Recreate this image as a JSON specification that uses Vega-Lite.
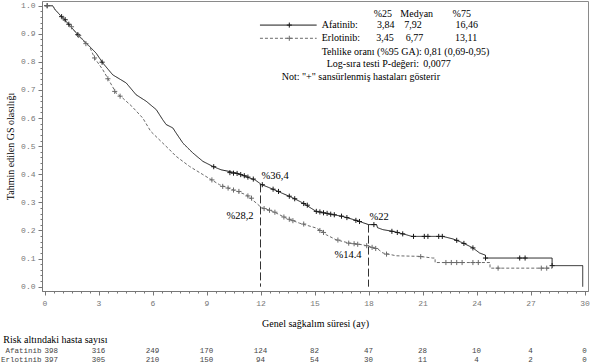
{
  "$schema": "https://vega.github.io/schema/vega-lite/v6.json",
  "width": 546,
  "height": 290,
  "autosize": {"type": "none"},
  "padding": {"left": 42, "top": 1, "right": 3, "bottom": 73},
  "background": "white",
  "config": {
    "view": {"stroke": "#8a8a8a", "strokeWidth": 1},
    "axis": {
      "grid": false,
      "domainColor": "#777777",
      "tickColor": "#777777",
      "labelColor": "#777777",
      "labelFont": "Liberation Mono",
      "labelFontSize": 8,
      "titleFont": "Liberation Serif",
      "titleFontSize": 10,
      "titleFontWeight": "normal",
      "titleColor": "#000000",
      "labelFlush": false,
      "labelOverlap": false
    },
    "text": {"font": "Liberation Serif", "fontSize": 10, "color": "#000000"}
  },
  "datasets": {
    "one": [{}],
    "curves": [
      {"group": "Afatinib", "time": 0, "surv": 1},
      {"group": "Afatinib", "time": 0.45, "surv": 1},
      {"group": "Afatinib", "time": 0.6, "surv": 0.985},
      {"group": "Afatinib", "time": 0.93, "surv": 0.962},
      {"group": "Afatinib", "time": 1.29, "surv": 0.938},
      {"group": "Afatinib", "time": 1.85, "surv": 0.897},
      {"group": "Afatinib", "time": 2.32, "surv": 0.867},
      {"group": "Afatinib", "time": 2.87, "surv": 0.831},
      {"group": "Afatinib", "time": 3.24, "surv": 0.796},
      {"group": "Afatinib", "time": 3.79, "surv": 0.754},
      {"group": "Afatinib", "time": 4.54, "surv": 0.725},
      {"group": "Afatinib", "time": 5.09, "surv": 0.683},
      {"group": "Afatinib", "time": 5.65, "surv": 0.66},
      {"group": "Afatinib", "time": 6.21, "surv": 0.63},
      {"group": "Afatinib", "time": 6.57, "surv": 0.594},
      {"group": "Afatinib", "time": 6.76, "surv": 0.577},
      {"group": "Afatinib", "time": 7.13, "surv": 0.565},
      {"group": "Afatinib", "time": 7.31, "surv": 0.547},
      {"group": "Afatinib", "time": 7.69, "surv": 0.511},
      {"group": "Afatinib", "time": 8.24, "surv": 0.476},
      {"group": "Afatinib", "time": 8.8, "surv": 0.446},
      {"group": "Afatinib", "time": 9.35, "surv": 0.428},
      {"group": "Afatinib", "time": 9.81, "surv": 0.416},
      {"group": "Afatinib", "time": 10.65, "surv": 0.405},
      {"group": "Afatinib", "time": 11.39, "surv": 0.387},
      {"group": "Afatinib", "time": 11.7, "surv": 0.38},
      {"group": "Afatinib", "time": 12.04, "surv": 0.364},
      {"group": "Afatinib", "time": 12.69, "surv": 0.347},
      {"group": "Afatinib", "time": 13.8, "surv": 0.316},
      {"group": "Afatinib", "time": 14.35, "surv": 0.298},
      {"group": "Afatinib", "time": 15.09, "surv": 0.268},
      {"group": "Afatinib", "time": 15.83, "surv": 0.259},
      {"group": "Afatinib", "time": 16.57, "surv": 0.25},
      {"group": "Afatinib", "time": 17.32, "surv": 0.236},
      {"group": "Afatinib", "time": 18.0, "surv": 0.221},
      {"group": "Afatinib", "time": 18.45, "surv": 0.221},
      {"group": "Afatinib", "time": 18.5, "surv": 0.21},
      {"group": "Afatinib", "time": 18.8, "surv": 0.203},
      {"group": "Afatinib", "time": 19.35, "surv": 0.197},
      {"group": "Afatinib", "time": 20.09, "surv": 0.185},
      {"group": "Afatinib", "time": 20.4, "surv": 0.179},
      {"group": "Afatinib", "time": 22.13, "surv": 0.179},
      {"group": "Afatinib", "time": 22.69, "surv": 0.17},
      {"group": "Afatinib", "time": 23.24, "surv": 0.156},
      {"group": "Afatinib", "time": 23.8, "surv": 0.138},
      {"group": "Afatinib", "time": 24.17, "surv": 0.12},
      {"group": "Afatinib", "time": 24.5, "surv": 0.112},
      {"group": "Afatinib", "time": 24.5, "surv": 0.102},
      {"group": "Afatinib", "time": 28.2, "surv": 0.102},
      {"group": "Afatinib", "time": 28.2, "surv": 0.075},
      {"group": "Afatinib", "time": 29.9, "surv": 0.075},
      {"group": "Afatinib", "time": 29.9, "surv": 0},
      {"group": "Erlotinib", "time": 0, "surv": 1},
      {"group": "Erlotinib", "time": 0.45, "surv": 1},
      {"group": "Erlotinib", "time": 0.6, "surv": 0.985},
      {"group": "Erlotinib", "time": 0.93, "surv": 0.962},
      {"group": "Erlotinib", "time": 1.29, "surv": 0.938},
      {"group": "Erlotinib", "time": 1.85, "surv": 0.897},
      {"group": "Erlotinib", "time": 2.25, "surv": 0.868},
      {"group": "Erlotinib", "time": 2.5, "surv": 0.855},
      {"group": "Erlotinib", "time": 2.78, "surv": 0.814},
      {"group": "Erlotinib", "time": 3.24, "surv": 0.772},
      {"group": "Erlotinib", "time": 3.61, "surv": 0.731},
      {"group": "Erlotinib", "time": 3.98, "surv": 0.689},
      {"group": "Erlotinib", "time": 4.35, "surv": 0.671},
      {"group": "Erlotinib", "time": 4.85, "surv": 0.642},
      {"group": "Erlotinib", "time": 5.46, "surv": 0.6},
      {"group": "Erlotinib", "time": 5.9, "surv": 0.553},
      {"group": "Erlotinib", "time": 6.57, "surv": 0.511},
      {"group": "Erlotinib", "time": 6.94, "surv": 0.488},
      {"group": "Erlotinib", "time": 7.31, "surv": 0.464},
      {"group": "Erlotinib", "time": 8.06, "surv": 0.428},
      {"group": "Erlotinib", "time": 8.8, "surv": 0.399},
      {"group": "Erlotinib", "time": 9.72, "surv": 0.363},
      {"group": "Erlotinib", "time": 10.46, "surv": 0.345},
      {"group": "Erlotinib", "time": 11.2, "surv": 0.327},
      {"group": "Erlotinib", "time": 11.76, "surv": 0.298},
      {"group": "Erlotinib", "time": 12.04, "surv": 0.282},
      {"group": "Erlotinib", "time": 12.69, "surv": 0.268},
      {"group": "Erlotinib", "time": 13.43, "surv": 0.244},
      {"group": "Erlotinib", "time": 14.17, "surv": 0.226},
      {"group": "Erlotinib", "time": 15.09, "surv": 0.209},
      {"group": "Erlotinib", "time": 15.46, "surv": 0.195},
      {"group": "Erlotinib", "time": 15.65, "surv": 0.185},
      {"group": "Erlotinib", "time": 16.2, "surv": 0.167},
      {"group": "Erlotinib", "time": 16.94, "surv": 0.155},
      {"group": "Erlotinib", "time": 17.69, "surv": 0.149},
      {"group": "Erlotinib", "time": 18.0, "surv": 0.144},
      {"group": "Erlotinib", "time": 18.52, "surv": 0.134},
      {"group": "Erlotinib", "time": 18.8, "surv": 0.12},
      {"group": "Erlotinib", "time": 19.54, "surv": 0.11},
      {"group": "Erlotinib", "time": 20.83, "surv": 0.108},
      {"group": "Erlotinib", "time": 21.57, "surv": 0.102},
      {"group": "Erlotinib", "time": 21.7, "surv": 0.102},
      {"group": "Erlotinib", "time": 21.7, "surv": 0.086},
      {"group": "Erlotinib", "time": 24.75, "surv": 0.086},
      {"group": "Erlotinib", "time": 24.75, "surv": 0.066},
      {"group": "Erlotinib", "time": 28.2, "surv": 0.066}
    ],
    "censor": [
      {"group": "Afatinib", "time": 0.15, "surv": 1.0},
      {"group": "Afatinib", "time": 0.95, "surv": 0.961},
      {"group": "Afatinib", "time": 1.15, "surv": 0.95},
      {"group": "Afatinib", "time": 1.35, "surv": 0.934},
      {"group": "Afatinib", "time": 1.85, "surv": 0.897},
      {"group": "Afatinib", "time": 3.2, "surv": 0.799},
      {"group": "Afatinib", "time": 9.4, "surv": 0.427},
      {"group": "Afatinib", "time": 10.3, "surv": 0.406},
      {"group": "Afatinib", "time": 10.5, "surv": 0.404},
      {"group": "Afatinib", "time": 10.7, "surv": 0.403},
      {"group": "Afatinib", "time": 10.9, "surv": 0.399},
      {"group": "Afatinib", "time": 11.1, "surv": 0.395},
      {"group": "Afatinib", "time": 11.3, "surv": 0.39},
      {"group": "Afatinib", "time": 11.6, "surv": 0.383},
      {"group": "Afatinib", "time": 12.1, "surv": 0.363},
      {"group": "Afatinib", "time": 12.7, "surv": 0.347},
      {"group": "Afatinib", "time": 13.0, "surv": 0.339},
      {"group": "Afatinib", "time": 13.6, "surv": 0.322},
      {"group": "Afatinib", "time": 13.9, "surv": 0.313},
      {"group": "Afatinib", "time": 14.4, "surv": 0.296},
      {"group": "Afatinib", "time": 14.6, "surv": 0.29},
      {"group": "Afatinib", "time": 15.1, "surv": 0.268},
      {"group": "Afatinib", "time": 15.3, "surv": 0.266},
      {"group": "Afatinib", "time": 15.5, "surv": 0.263},
      {"group": "Afatinib", "time": 15.7, "surv": 0.261},
      {"group": "Afatinib", "time": 15.9, "surv": 0.258},
      {"group": "Afatinib", "time": 16.1, "surv": 0.256},
      {"group": "Afatinib", "time": 16.5, "surv": 0.251},
      {"group": "Afatinib", "time": 16.8, "surv": 0.246},
      {"group": "Afatinib", "time": 17.3, "surv": 0.236},
      {"group": "Afatinib", "time": 17.5, "surv": 0.232},
      {"group": "Afatinib", "time": 18.3, "surv": 0.221},
      {"group": "Afatinib", "time": 19.3, "surv": 0.197},
      {"group": "Afatinib", "time": 19.6, "surv": 0.193},
      {"group": "Afatinib", "time": 19.9, "surv": 0.188},
      {"group": "Afatinib", "time": 20.5, "surv": 0.179},
      {"group": "Afatinib", "time": 21.1, "surv": 0.179},
      {"group": "Afatinib", "time": 21.3, "surv": 0.179},
      {"group": "Afatinib", "time": 21.9, "surv": 0.179},
      {"group": "Afatinib", "time": 22.1, "surv": 0.179},
      {"group": "Afatinib", "time": 22.9, "surv": 0.165},
      {"group": "Afatinib", "time": 23.3, "surv": 0.154},
      {"group": "Afatinib", "time": 23.8, "surv": 0.138},
      {"group": "Afatinib", "time": 24.5, "surv": 0.102},
      {"group": "Afatinib", "time": 26.4, "surv": 0.102},
      {"group": "Afatinib", "time": 26.7, "surv": 0.102},
      {"group": "Afatinib", "time": 28.2, "surv": 0.075},
      {"group": "Erlotinib", "time": 0.15, "surv": 1.0},
      {"group": "Erlotinib", "time": 1.05, "surv": 0.955},
      {"group": "Erlotinib", "time": 1.5, "surv": 0.925},
      {"group": "Erlotinib", "time": 1.9, "surv": 0.894},
      {"group": "Erlotinib", "time": 2.3, "surv": 0.865},
      {"group": "Erlotinib", "time": 2.78, "surv": 0.814},
      {"group": "Erlotinib", "time": 3.52, "surv": 0.74},
      {"group": "Erlotinib", "time": 3.9, "surv": 0.695},
      {"group": "Erlotinib", "time": 4.2, "surv": 0.678},
      {"group": "Erlotinib", "time": 9.3, "surv": 0.38},
      {"group": "Erlotinib", "time": 9.9, "surv": 0.357},
      {"group": "Erlotinib", "time": 10.2, "surv": 0.351},
      {"group": "Erlotinib", "time": 10.5, "surv": 0.344},
      {"group": "Erlotinib", "time": 10.8, "surv": 0.339},
      {"group": "Erlotinib", "time": 11.3, "surv": 0.323},
      {"group": "Erlotinib", "time": 11.5, "surv": 0.315},
      {"group": "Erlotinib", "time": 12.2, "surv": 0.278},
      {"group": "Erlotinib", "time": 12.5, "surv": 0.272},
      {"group": "Erlotinib", "time": 12.8, "surv": 0.265},
      {"group": "Erlotinib", "time": 13.3, "surv": 0.248},
      {"group": "Erlotinib", "time": 13.6, "surv": 0.24},
      {"group": "Erlotinib", "time": 13.8, "surv": 0.235},
      {"group": "Erlotinib", "time": 14.4, "surv": 0.223},
      {"group": "Erlotinib", "time": 15.3, "surv": 0.2},
      {"group": "Erlotinib", "time": 15.5, "surv": 0.193},
      {"group": "Erlotinib", "time": 16.3, "surv": 0.166},
      {"group": "Erlotinib", "time": 16.9, "surv": 0.155},
      {"group": "Erlotinib", "time": 17.2, "surv": 0.153},
      {"group": "Erlotinib", "time": 17.4, "surv": 0.151},
      {"group": "Erlotinib", "time": 17.9, "surv": 0.146},
      {"group": "Erlotinib", "time": 18.2, "surv": 0.14},
      {"group": "Erlotinib", "time": 18.4, "surv": 0.136},
      {"group": "Erlotinib", "time": 19.0, "surv": 0.116},
      {"group": "Erlotinib", "time": 20.9, "surv": 0.107},
      {"group": "Erlotinib", "time": 22.3, "surv": 0.086},
      {"group": "Erlotinib", "time": 22.6, "surv": 0.086},
      {"group": "Erlotinib", "time": 22.9, "surv": 0.086},
      {"group": "Erlotinib", "time": 23.2, "surv": 0.086},
      {"group": "Erlotinib", "time": 23.8, "surv": 0.086},
      {"group": "Erlotinib", "time": 24.1, "surv": 0.086},
      {"group": "Erlotinib", "time": 25.2, "surv": 0.066},
      {"group": "Erlotinib", "time": 27.6, "surv": 0.066},
      {"group": "Erlotinib", "time": 27.9, "surv": 0.066}
    ],
    "milestones": [
      {"group": "Afatinib", "time": 12, "surv": 0.364, "label": "%36,4"},
      {"group": "Erlotinib", "time": 12, "surv": 0.282, "label": "%28,2"},
      {"group": "Afatinib", "time": 18, "surv": 0.221, "label": "%22"},
      {"group": "Erlotinib", "time": 18, "surv": 0.144, "label": "%14.4"}
    ],
    "risk": [
      {"group": "Afatinib", "time": 0, "n": 398},
      {"group": "Afatinib", "time": 3, "n": 316},
      {"group": "Afatinib", "time": 6, "n": 249},
      {"group": "Afatinib", "time": 9, "n": 170},
      {"group": "Afatinib", "time": 12, "n": 124},
      {"group": "Afatinib", "time": 15, "n": 82},
      {"group": "Afatinib", "time": 18, "n": 47},
      {"group": "Afatinib", "time": 21, "n": 28},
      {"group": "Afatinib", "time": 24, "n": 10},
      {"group": "Afatinib", "time": 27, "n": 4},
      {"group": "Afatinib", "time": 30, "n": 0},
      {"group": "Erlotinib", "time": 0, "n": 397},
      {"group": "Erlotinib", "time": 3, "n": 305},
      {"group": "Erlotinib", "time": 6, "n": 210},
      {"group": "Erlotinib", "time": 9, "n": 150},
      {"group": "Erlotinib", "time": 12, "n": 94},
      {"group": "Erlotinib", "time": 15, "n": 54},
      {"group": "Erlotinib", "time": 18, "n": 30},
      {"group": "Erlotinib", "time": 21, "n": 11},
      {"group": "Erlotinib", "time": 24, "n": 4},
      {"group": "Erlotinib", "time": 27, "n": 2},
      {"group": "Erlotinib", "time": 30, "n": 0}
    ]
  },
  "layer": [
    {
      "data": {"name": "milestones"},
      "transform": [{"filter": "datum.group === 'Afatinib'"}],
      "mark": {"type": "rule", "color": "#333333", "strokeWidth": 1, "strokeDash": [8, 3]},
      "encoding": {
        "x": {"field": "time", "type": "quantitative", "scale": {"domain": [-0.139, 30.194], "nice": false, "zero": false}},
        "y": {"field": "surv", "type": "quantitative", "scale": {"domain": [-0.0153, 1.0167], "nice": false, "zero": false}},
        "y2": {"datum": 0}
      }
    },
    {
      "data": {"name": "curves"},
      "mark": {"type": "line", "strokeWidth": 1, "clip": true},
      "encoding": {
        "x": {
          "field": "time", "type": "quantitative",
          "scale": {"domain": [-0.139, 30.194], "nice": false, "zero": false},
          "axis": {
            "title": "Genel sağkalım süresi (ay)",
            "values": [0,0.5,1,1.5,2,2.5,3,3.5,4,4.5,5,5.5,6,6.5,7,7.5,8,8.5,9,9.5,10,10.5,11,11.5,12,12.5,13,13.5,14,14.5,15,15.5,16,16.5,17,17.5,18,18.5,19,19.5,20,20.5,21,21.5,22,22.5,23,23.5,24,24.5,25,25.5,26,26.5,27,27.5,28,28.5,29,29.5,30],
            "tickCount": 200,
            "format": ".0f",
            "labelOverlap": false,
            "labelFlush": false,
            "labelExpr": "datum.value % 3 === 0 ? datum.label : ''",
            "tickSize": {"condition": {"test": "datum.value % 3 === 0", "value": 4}, "value": 2},
            "labelPadding": 4,
            "titlePadding": 11
          }
        },
        "y": {
          "field": "surv", "type": "quantitative",
          "scale": {"domain": [-0.0153, 1.0167], "nice": false, "zero": false},
          "axis": {
            "title": "Tahmin edilen GS olasılığı",
            "values": [0,0.02,0.04,0.06,0.08,0.1,0.12,0.14,0.16,0.18,0.2,0.22,0.24,0.26,0.28,0.3,0.32,0.34,0.36,0.38,0.4,0.42,0.44,0.46,0.48,0.5,0.52,0.54,0.56,0.58,0.6,0.62,0.64,0.66,0.68,0.7,0.72,0.74,0.76,0.78,0.8,0.82,0.84,0.86,0.88,0.9,0.92,0.94,0.96,0.98,1],
            "tickCount": 200,
            "format": ".1f",
            "labelOverlap": false,
            "labelFlush": false,
            "labelExpr": "abs(datum.value * 10 - round(datum.value * 10)) < 0.001 ? datum.label : ''",
            "tickSize": {"condition": {"test": "abs(datum.value * 10 - round(datum.value * 10)) < 0.001", "value": 4}, "value": 2},
            "labelPadding": 3,
            "titlePadding": 5
          }
        },
        "color": {"field": "group", "type": "nominal", "scale": {"domain": ["Afatinib", "Erlotinib"], "range": ["#1a1a1a", "#6a6a6a"]}, "legend": null},
        "strokeDash": {"field": "group", "type": "nominal", "scale": {"domain": ["Afatinib", "Erlotinib"], "range": [[1, 0], [3, 2]]}, "legend": null},
        "order": {"value": null}
      }
    },
    {
      "data": {"name": "censor"},
      "mark": {"type": "point", "shape": "M-1,0H1M0,-1V1", "filled": false, "size": 26, "strokeWidth": 1, "opacity": 1},
      "encoding": {
        "x": {"field": "time", "type": "quantitative", "scale": {"domain": [-0.139, 30.194], "nice": false, "zero": false}},
        "y": {"field": "surv", "type": "quantitative", "scale": {"domain": [-0.0153, 1.0167], "nice": false, "zero": false}},
        "color": {"field": "group", "type": "nominal", "scale": {"domain": ["Afatinib", "Erlotinib"], "range": ["#1a1a1a", "#6a6a6a"]}, "legend": null}
      }
    },
    {
      "data": {"name": "milestones"},
      "transform": [{"filter": "datum.group === 'Afatinib'"}],
      "mark": {"type": "text", "align": "left", "baseline": "middle", "dx": 1, "dy": -8, "fontSize": 10.5},
      "encoding": {
        "x": {"field": "time", "type": "quantitative", "scale": {"domain": [-0.139, 30.194], "nice": false, "zero": false}},
        "y": {"field": "surv", "type": "quantitative", "scale": {"domain": [-0.0153, 1.0167], "nice": false, "zero": false}},
        "text": {"field": "label"}
      }
    },
    {
      "data": {"name": "milestones"},
      "transform": [{"filter": "datum.group === 'Erlotinib'"}],
      "mark": {"type": "text", "align": "right", "baseline": "middle", "dx": -7, "dy": 9, "fontSize": 10.5},
      "encoding": {
        "x": {"field": "time", "type": "quantitative", "scale": {"domain": [-0.139, 30.194], "nice": false, "zero": false}},
        "y": {"field": "surv", "type": "quantitative", "scale": {"domain": [-0.0153, 1.0167], "nice": false, "zero": false}},
        "text": {"field": "label"}
      }
    },
    {
      "data": {"name": "one"},
      "mark": {"type": "rule", "color": "#1a1a1a", "strokeWidth": 1},
      "encoding": {"x": {"datum": 11.97}, "x2": {"datum": 15.12}, "y": {"datum": 0.931}}
    },
    {
      "data": {"name": "one"},
      "mark": {"type": "rule", "color": "#6a6a6a", "strokeWidth": 1, "strokeDash": [3, 2]},
      "encoding": {"x": {"datum": 11.97}, "x2": {"datum": 15.12}, "y": {"datum": 0.884}}
    },
    {
      "data": {"name": "one"},
      "mark": {"type": "point", "shape": "M-1,0H1M0,-1V1", "filled": false, "size": 26, "strokeWidth": 1, "color": "#1a1a1a", "opacity": 1},
      "encoding": {"x": {"datum": 13.6}, "y": {"datum": 0.931}}
    },
    {
      "data": {"name": "one"},
      "mark": {"type": "point", "shape": "M-1,0H1M0,-1V1", "filled": false, "size": 26, "strokeWidth": 1, "color": "#6a6a6a", "opacity": 1},
      "encoding": {"x": {"datum": 13.6}, "y": {"datum": 0.884}}
    },
    {
      "data": {"name": "one"},
      "mark": {"type": "text", "align": "center", "baseline": "middle"},
      "encoding": {"x": {"datum": 18.8}, "y": {"datum": 0.972}, "text": {"value": "%25"}}
    },
    {
      "data": {"name": "one"},
      "mark": {"type": "text", "align": "center", "baseline": "middle"},
      "encoding": {"x": {"datum": 20.68}, "y": {"datum": 0.972}, "text": {"value": "Medyan"}}
    },
    {
      "data": {"name": "one"},
      "mark": {"type": "text", "align": "center", "baseline": "middle"},
      "encoding": {"x": {"datum": 23.18}, "y": {"datum": 0.972}, "text": {"value": "%75"}}
    },
    {
      "data": {"name": "one"},
      "mark": {"type": "text", "align": "left", "baseline": "middle"},
      "encoding": {"x": {"datum": 15.4}, "y": {"datum": 0.931}, "text": {"value": "Afatinib:"}}
    },
    {
      "data": {"name": "one"},
      "mark": {"type": "text", "align": "left", "baseline": "middle"},
      "encoding": {"x": {"datum": 15.4}, "y": {"datum": 0.885}, "text": {"value": "Erlotinib:"}}
    },
    {
      "data": {"name": "one"},
      "mark": {"type": "text", "align": "center", "baseline": "middle"},
      "encoding": {"x": {"datum": 18.96}, "y": {"datum": 0.931}, "text": {"value": "3,84"}}
    },
    {
      "data": {"name": "one"},
      "mark": {"type": "text", "align": "center", "baseline": "middle"},
      "encoding": {"x": {"datum": 20.47}, "y": {"datum": 0.931}, "text": {"value": "7,92"}}
    },
    {
      "data": {"name": "one"},
      "mark": {"type": "text", "align": "center", "baseline": "middle"},
      "encoding": {"x": {"datum": 23.46}, "y": {"datum": 0.931}, "text": {"value": "16,46"}}
    },
    {
      "data": {"name": "one"},
      "mark": {"type": "text", "align": "center", "baseline": "middle"},
      "encoding": {"x": {"datum": 18.92}, "y": {"datum": 0.885}, "text": {"value": "3,45"}}
    },
    {
      "data": {"name": "one"},
      "mark": {"type": "text", "align": "center", "baseline": "middle"},
      "encoding": {"x": {"datum": 20.56}, "y": {"datum": 0.885}, "text": {"value": "6,77"}}
    },
    {
      "data": {"name": "one"},
      "mark": {"type": "text", "align": "center", "baseline": "middle"},
      "encoding": {"x": {"datum": 23.42}, "y": {"datum": 0.885}, "text": {"value": "13,11"}}
    },
    {
      "data": {"name": "one"},
      "mark": {"type": "text", "align": "left", "baseline": "middle"},
      "encoding": {"x": {"datum": 15.4}, "y": {"datum": 0.836}, "text": {"value": "Tehlike oranı (%95 GA): 0,81 (0,69-0,95)"}}
    },
    {
      "data": {"name": "one"},
      "mark": {"type": "text", "align": "left", "baseline": "middle"},
      "encoding": {"x": {"datum": 15.68}, "y": {"datum": 0.791}, "text": {"value": "Log-sıra testi P-değeri:"}}
    },
    {
      "data": {"name": "one"},
      "mark": {"type": "text", "align": "left", "baseline": "middle"},
      "encoding": {"x": {"datum": 21.04}, "y": {"datum": 0.791}, "text": {"value": "0,0077"}}
    },
    {
      "data": {"name": "one"},
      "mark": {"type": "text", "align": "left", "baseline": "middle"},
      "encoding": {"x": {"datum": 13.18}, "y": {"datum": 0.745}, "text": {"value": "Not: \"+\" sansürlenmiş hastaları gösterir"}}
    },
    {
      "data": {"name": "one"},
      "mark": {"type": "text", "align": "left", "baseline": "middle"},
      "encoding": {"x": {"datum": -2.29}, "y": {"datum": -0.19}, "text": {"value": "Risk altındaki hasta sayısı"}}
    },
    {
      "data": {"name": "one"},
      "mark": {"type": "text", "align": "right", "baseline": "middle", "dx": -3, "font": "Liberation Mono", "fontSize": 7.5, "color": "#444444"},
      "encoding": {"x": {"datum": 0}, "y": {"datum": -0.229}, "text": {"value": "Afatinib"}}
    },
    {
      "data": {"name": "one"},
      "mark": {"type": "text", "align": "right", "baseline": "middle", "dx": -3, "font": "Liberation Mono", "fontSize": 7.5, "color": "#444444"},
      "encoding": {"x": {"datum": 0}, "y": {"datum": -0.261}, "text": {"value": "Erlotinib"}}
    },
    {
      "data": {"name": "risk"},
      "transform": [{"filter": "datum.group === 'Afatinib' && datum.time === 0"}],
      "mark": {"type": "text", "align": "left", "baseline": "middle", "font": "Liberation Mono", "fontSize": 7.5, "color": "#444444"},
      "encoding": {
        "x": {"field": "time", "type": "quantitative", "scale": {"domain": [-0.139, 30.194], "nice": false, "zero": false}},
        "y": {"datum": -0.229},
        "text": {"field": "n"}
      }
    },
    {
      "data": {"name": "risk"},
      "transform": [{"filter": "datum.group === 'Afatinib' && datum.time > 0"}],
      "mark": {"type": "text", "align": "center", "baseline": "middle", "font": "Liberation Mono", "fontSize": 7.5, "color": "#444444"},
      "encoding": {
        "x": {"field": "time", "type": "quantitative", "scale": {"domain": [-0.139, 30.194], "nice": false, "zero": false}},
        "y": {"datum": -0.229},
        "text": {"field": "n"}
      }
    },
    {
      "data": {"name": "risk"},
      "transform": [{"filter": "datum.group === 'Erlotinib' && datum.time === 0"}],
      "mark": {"type": "text", "align": "left", "baseline": "middle", "font": "Liberation Mono", "fontSize": 7.5, "color": "#444444"},
      "encoding": {
        "x": {"field": "time", "type": "quantitative", "scale": {"domain": [-0.139, 30.194], "nice": false, "zero": false}},
        "y": {"datum": -0.261},
        "text": {"field": "n"}
      }
    },
    {
      "data": {"name": "risk"},
      "transform": [{"filter": "datum.group === 'Erlotinib' && datum.time > 0"}],
      "mark": {"type": "text", "align": "center", "baseline": "middle", "font": "Liberation Mono", "fontSize": 7.5, "color": "#444444"},
      "encoding": {
        "x": {"field": "time", "type": "quantitative", "scale": {"domain": [-0.139, 30.194], "nice": false, "zero": false}},
        "y": {"datum": -0.261},
        "text": {"field": "n"}
      }
    }
  ]
}
